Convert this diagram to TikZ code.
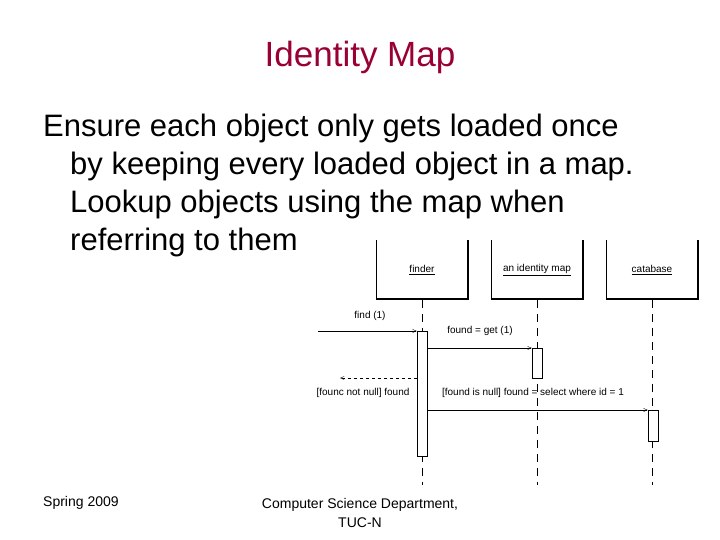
\documentclass[tikz,border=0pt]{standalone}
\usepackage{fontspec}
\setmainfont{Liberation Sans}
\usetikzlibrary{arrows}
\definecolor{titlered}{RGB}{153,0,51}
\tikzset{
  lifeline/.style={dashed, dash pattern=on 8pt off 6pt},
  activation/.style={draw, fill=white, minimum width=10pt, inner sep=0pt},
  msg/.style={->, >=angle 45},
  small/.style={font=\fontsize{10}{11}\selectfont},
}
\begin{document}
\begin{tikzpicture}[x=1pt,y=-1pt]
  \useasboundingbox (0,0) rectangle (720,540);

  % Title and text
  \node[titlered, font=\fontsize{35}{38}\selectfont] (title) at (360,57) {Identity Map};
  \begin{scope}[font=\fontsize{31}{34}\selectfont, anchor=base west, inner sep=0pt]
    \node (l1) at (43,137) {Ensure each object only gets loaded once};
    \node (l2) at (70,175) {by keeping every loaded object in a map.};
    \node (l3) at (70,213) {Lookup objects using the map when};
    \node (l4) at (70,251) {referring to them};
  \end{scope}

  % Objects
  \foreach \x/\name/\txt in {376/finder/finder, 491/idmap/an identity map, 606/db/catabase} {
    \draw (\x,240) -- (\x,299);
    \draw[line width=2pt] (\x,299) -- (\x+92,299) -- (\x+92,240);
    \node[small] (\name) at (\x+46,270) {\underline{\txt}};
    \draw[lifeline] (\x+46,300) -- (\x+46,485);
  }

  % Activations
  \node[activation, minimum height=125pt, anchor=north] (actF) at (422,331) {};
  \node[activation, minimum height=30pt, anchor=north] (actM) at (537,348) {};
  \node[activation, minimum height=31pt, anchor=north] (actD) at (653,410) {};

  % Messages
  \coordinate (start) at (318,331);
  \coordinate (back) at (340,378);
  \draw[msg] (start) -- (actF.north west);
  \node[small] (m1) at (370,316) {find (1)};
  \draw[msg] (actF.east |- actM.north) -- (actM.north west);
  \node[small] (m2) at (480,331) {found = get (1)};
  \draw[msg, dashed] (actF.west |- back) -- (back);
  \node[small] (m3) at (363,393) {[founc not null] found};
  \draw[msg] (actF.east |- actD.north) -- (actD.north west);
  \node[small] (m4) at (533,393) {[found is null] found = select where id = 1};

  % Footer
  \node[font=\fontsize{14}{16}\selectfont, anchor=west, inner sep=0pt] (spring) at (43,503) {Spring 2009};
  \node[font=\fontsize{14}{19}\selectfont, align=center] (dept) at (360,513) {Computer Science Department,\\TUC-N};
\end{tikzpicture}
\end{document}
